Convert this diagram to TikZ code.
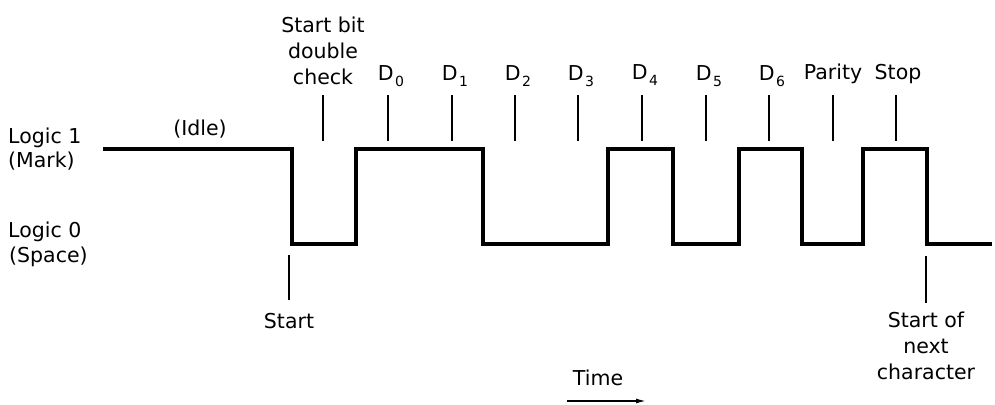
\documentclass[tikz,border=0pt]{standalone}
\usepackage{fontspec}
\usetikzlibrary{arrows.meta}
\setmainfont{DejaVu Sans}
\begin{document}
\begin{tikzpicture}[x=1pt,y=-1pt,
  lbl/.style={inner sep=0pt,font=\fontsize{20.5}{26}\selectfont,align=center},
  wave/.style={line width=4pt,line join=miter},
  tick/.style={line width=1.4pt}]
\newcommand{\Dsub}[1]{D\kern1.5pt\raisebox{-6pt}{\fontsize{14}{14}\selectfont #1}}
\useasboundingbox (0,0) rectangle (995,404);
% waveform
\draw[wave] (103,149) -- (292,149) -- (292,244) -- (356,244) -- (356,149)
  -- (483,149) -- (483,244) -- (608,244) -- (608,149) -- (673,149)
  -- (673,244) -- (739,244) -- (739,149) -- (802,149) -- (802,244)
  -- (863,244) -- (863,149) -- (927,149) -- (927,244) -- (992,244);
% left labels
\node[lbl,anchor=base west] (l1) at (8,143) {Logic 1};
\node[lbl,anchor=base west] (mk) at (8,167) {(Mark)};
\node[lbl,anchor=base west] (l0) at (8,237) {Logic 0};
\node[lbl,anchor=base west] (sp) at (9,262) {(Space)};
\node[lbl,anchor=base] (idle) at (200,135) {(Idle)};
% top labels
\node[lbl,anchor=north] (dc) at (323,17) {Start bit\\double\\check};
\node[lbl,anchor=base] (d0) at (391,80) {\Dsub{0}};
\node[lbl,anchor=base] (d1) at (455,80) {\Dsub{1}};
\node[lbl,anchor=base] (d2) at (518,80) {\Dsub{2}};
\node[lbl,anchor=base] (d3) at (581,80) {\Dsub{3}};
\node[lbl,anchor=base] (d4) at (645,79) {\Dsub{4}};
\node[lbl,anchor=base] (d5) at (709,80) {\Dsub{5}};
\node[lbl,anchor=base] (d6) at (772,80) {\Dsub{6}};
\node[lbl,anchor=base] (par) at (833,79) {Parity};
\node[lbl,anchor=base] (stp) at (898,79) {Stop};
% top ticks
\foreach \n/\x in {dc/323,d0/388,d1/452,d2/515,d3/578,d4/642,d5/706,d6/769,par/833,stp/896}{
  \coordinate (\n t) at (\x,95);
  \coordinate (\n b) at (\x,141);
  \draw[tick] (\n t) -- (\n b);
}
% bottom labels
\coordinate (st1) at (289,255);
\coordinate (st2) at (289,300);
\draw[tick] (st1) -- (st2);
\node[lbl,anchor=base] (start) at (289,328) {Start};
\coordinate (nx1) at (926,256);
\coordinate (nx2) at (926,303);
\draw[tick] (nx1) -- (nx2);
\node[lbl,anchor=north] (next) at (926,312) {Start of\\next\\character};
% time
\node[lbl,anchor=base] (time) at (598,385) {Time};
\coordinate (ta) at (567,401);
\coordinate (tb) at (646,401);
\draw[line width=1.4pt,-{Latex[length=10pt,width=5pt]}] (ta) -- (tb);
\end{tikzpicture}
\end{document}
